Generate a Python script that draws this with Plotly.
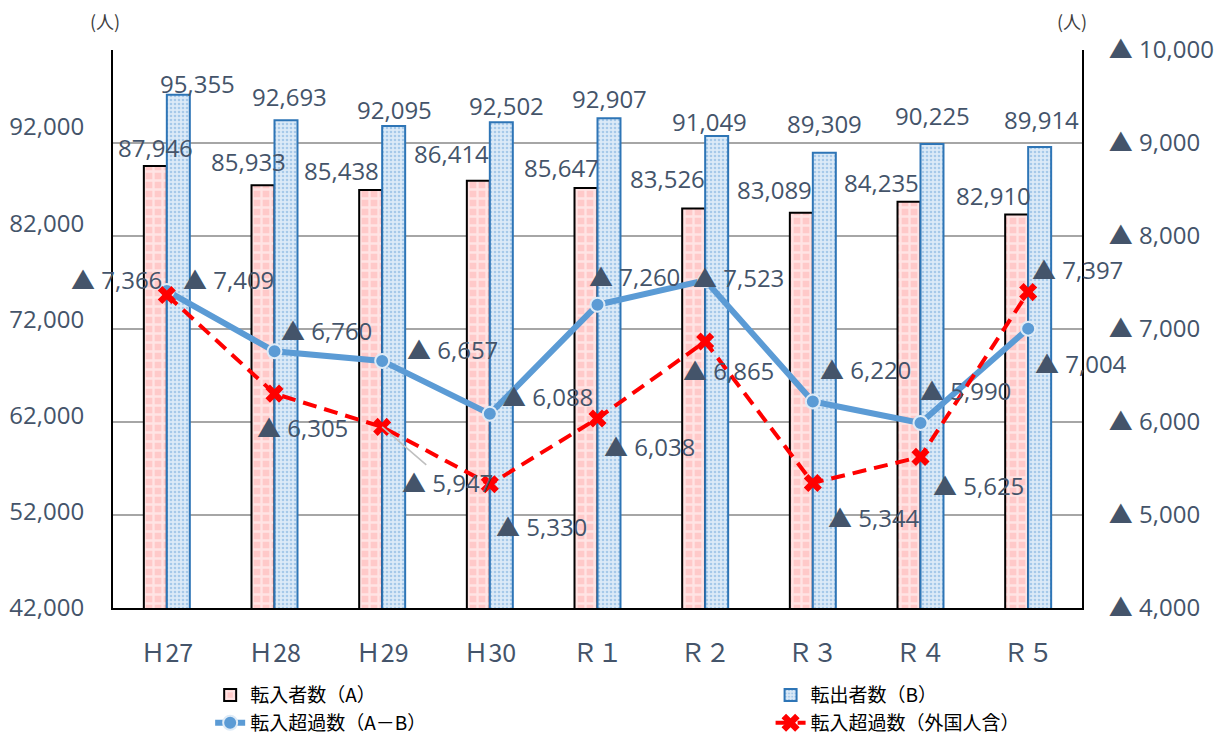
import plotly.graph_objects as go

# 年度別の転入・転出者数と転入超過数
categories = ["Ｈ27", "Ｈ28", "Ｈ29", "Ｈ30", "Ｒ１", "Ｒ２", "Ｒ３", "Ｒ４", "Ｒ５"]
moved_in = [87946, 85933, 85438, 86414, 85647, 83526, 83089, 84235, 82910]
moved_out = [95355, 92693, 92095, 92502, 92907, 91049, 89309, 90225, 89914]
# 転入超過数（▲はマイナス＝転出超過）
net_outflow = [7409, 6760, 6657, 6088, 7260, 7523, 6220, 5990, 7004]
net_outflow_incl_foreign = [7366, 6305, 5947, 5330, 6038, 6865, 5344, 5625, 7397]

left_ticks = [42000, 52000, 62000, 72000, 82000, 92000]
right_ticks = [4000, 5000, 6000, 7000, 8000, 9000, 10000]

series_names = ["転入者数（A）", "転出者数（B）", "転入超過数（A－B）", "転入超過数（外国人含）"]

# label offsets in pixels (x right, y up) relative to each mark
in_label_dx = [-11, -26, -41, -38, -36, -38, -38, -39, -35]
in_label_dy = [18, 24, 20, 27, 21, 30, 23, 19, 19]
out_label_dx = [31, 15, 12, 17, 12, 4, 12, 12, 13]
out_label_dy = [11, 24, 17, 17, 20, 15, 29, 29, 28]
net_label_dx = [62, 52, 70, 58, 37, 33, 53, 45, 53]
net_label_dy = [11, 21, 11, 17, 28, 3, 32, 32, -35]
foreign_label_dx = [-50, 28, 65, 52, 52, 23, 61, 58, 49]
foreign_label_dy = [15, -34, -56, -42, -28, -29, -34, -29, 23]

TEXT = "#44546A"
FONT = "Open Sans, Noto Sans CJK JP, sans-serif"
JP_FONT = "Noto Sans CJK JP, sans-serif"

fig = go.Figure()

fig.add_trace(go.Bar(
    x=categories, y=moved_in, name=series_names[0], legend="legend",
    marker=dict(color="#FFC9C9",
                pattern=dict(shape="+", fgcolor="#FFFFFF", size=9, solidity=0.45),
                line=dict(color="#000000", width=2)),
    hoverinfo="y",
))
fig.add_trace(go.Bar(
    x=categories, y=moved_out, name=series_names[1], legend="legend2",
    marker=dict(color="#DCEAF7",
                pattern=dict(shape=".", fgcolor="#6FA8DC", size=4, solidity=0.35),
                line=dict(color="#2E75B6", width=2)),
    hoverinfo="y",
))
fig.add_trace(go.Scatter(
    x=categories, y=net_outflow, name=series_names[2], yaxis="y2", legend="legend",
    mode="lines+markers",
    line=dict(color="#5B9BD5", width=6),
    marker=dict(symbol="circle", size=14, color="#5B9BD5", line=dict(color="#DEEBF7", width=2)),
))
fig.add_trace(go.Scatter(
    x=categories, y=net_outflow_incl_foreign, name=series_names[3], yaxis="y2", legend="legend2",
    mode="lines+markers",
    line=dict(color="#FF0000", width=4, dash="14px,8px"),
    marker=dict(symbol="x", size=16, color="#FF0000"),
))

annotations = []
for i, c in enumerate(categories):
    annotations.append(dict(x=c, y=moved_in[i], xref="x", yref="y", text=f"{moved_in[i]:,}",
                            showarrow=False, xshift=in_label_dx[i], yshift=in_label_dy[i],
                            xanchor="center", yanchor="middle"))
    annotations.append(dict(x=c, y=moved_out[i], xref="x", yref="y", text=f"{moved_out[i]:,}",
                            showarrow=False, xshift=out_label_dx[i], yshift=out_label_dy[i],
                            xanchor="center", yanchor="middle"))
    annotations.append(dict(x=c, y=net_outflow[i], xref="x", yref="y2", text=f"▲ {net_outflow[i]:,}",
                            showarrow=False, xshift=net_label_dx[i], yshift=net_label_dy[i],
                            xanchor="center", yanchor="middle"))
    # the H29 label carries a leader line back to its marker
    leader = i == 2
    annotations.append(dict(x=c, y=net_outflow_incl_foreign[i], xref="x", yref="y2",
                            text=f"▲ {net_outflow_incl_foreign[i]:,}",
                            showarrow=leader, arrowhead=0, arrowwidth=1.5, arrowcolor="#BFBFBF",
                            ax=foreign_label_dx[i], ay=-foreign_label_dy[i],
                            xshift=0 if leader else foreign_label_dx[i],
                            yshift=0 if leader else foreign_label_dy[i],
                            xanchor="center", yanchor="middle"))

for xp in (-0.008, 0.990):
    annotations.append(dict(x=xp, y=1.052, xref="paper", yref="paper", text="(人)",
                            showarrow=False, font=dict(family=JP_FONT, size=18, color="#404040"),
                            xanchor="center", yanchor="middle"))

legend_style = dict(xref="container", yref="container", xanchor="left", yanchor="top",
                    orientation="v", font=dict(family=JP_FONT, size=19, color="#000000"),
                    bgcolor="rgba(0,0,0,0)", tracegroupgap=0)

fig.update_layout(
    width=1229, height=735,
    margin=dict(l=113, r=147, t=50, b=127, autoexpand=False),
    paper_bgcolor="white", plot_bgcolor="white",
    font=dict(family=FONT, size=24, color=TEXT),
    barmode="group", bargap=0.573, bargroupgap=0,
    annotations=annotations,
    xaxis=dict(range=[-0.5, len(categories) - 0.5], automargin=False,
               showline=True, linecolor="#000000", linewidth=2, showgrid=False,
               tickfont=dict(family=JP_FONT, size=25, color=TEXT), ticklabelstandoff=22),
    yaxis=dict(range=[42000, 100000], tickmode="array", automargin=False,
               tickvals=left_ticks, ticktext=[f"{v:,}" for v in left_ticks],
               showgrid=False, zeroline=False,
               showline=True, linecolor="#000000", linewidth=2, ticklabelstandoff=22),
    yaxis2=dict(range=[4000, 10000], overlaying="y", side="right", tickmode="array", automargin=False,
                tickvals=right_ticks, ticktext=[f"▲ {v:,}" for v in right_ticks],
                showgrid=True, gridcolor="#A6A6A6", gridwidth=2, zeroline=False,
                showline=True, linecolor="#000000", linewidth=2, ticklabelstandoff=20),
    legend=dict(x=0.171, y=0.080, **legend_style),
    legend2=dict(x=0.627, y=0.080, **legend_style),
)

fig.write_html("out.html")
